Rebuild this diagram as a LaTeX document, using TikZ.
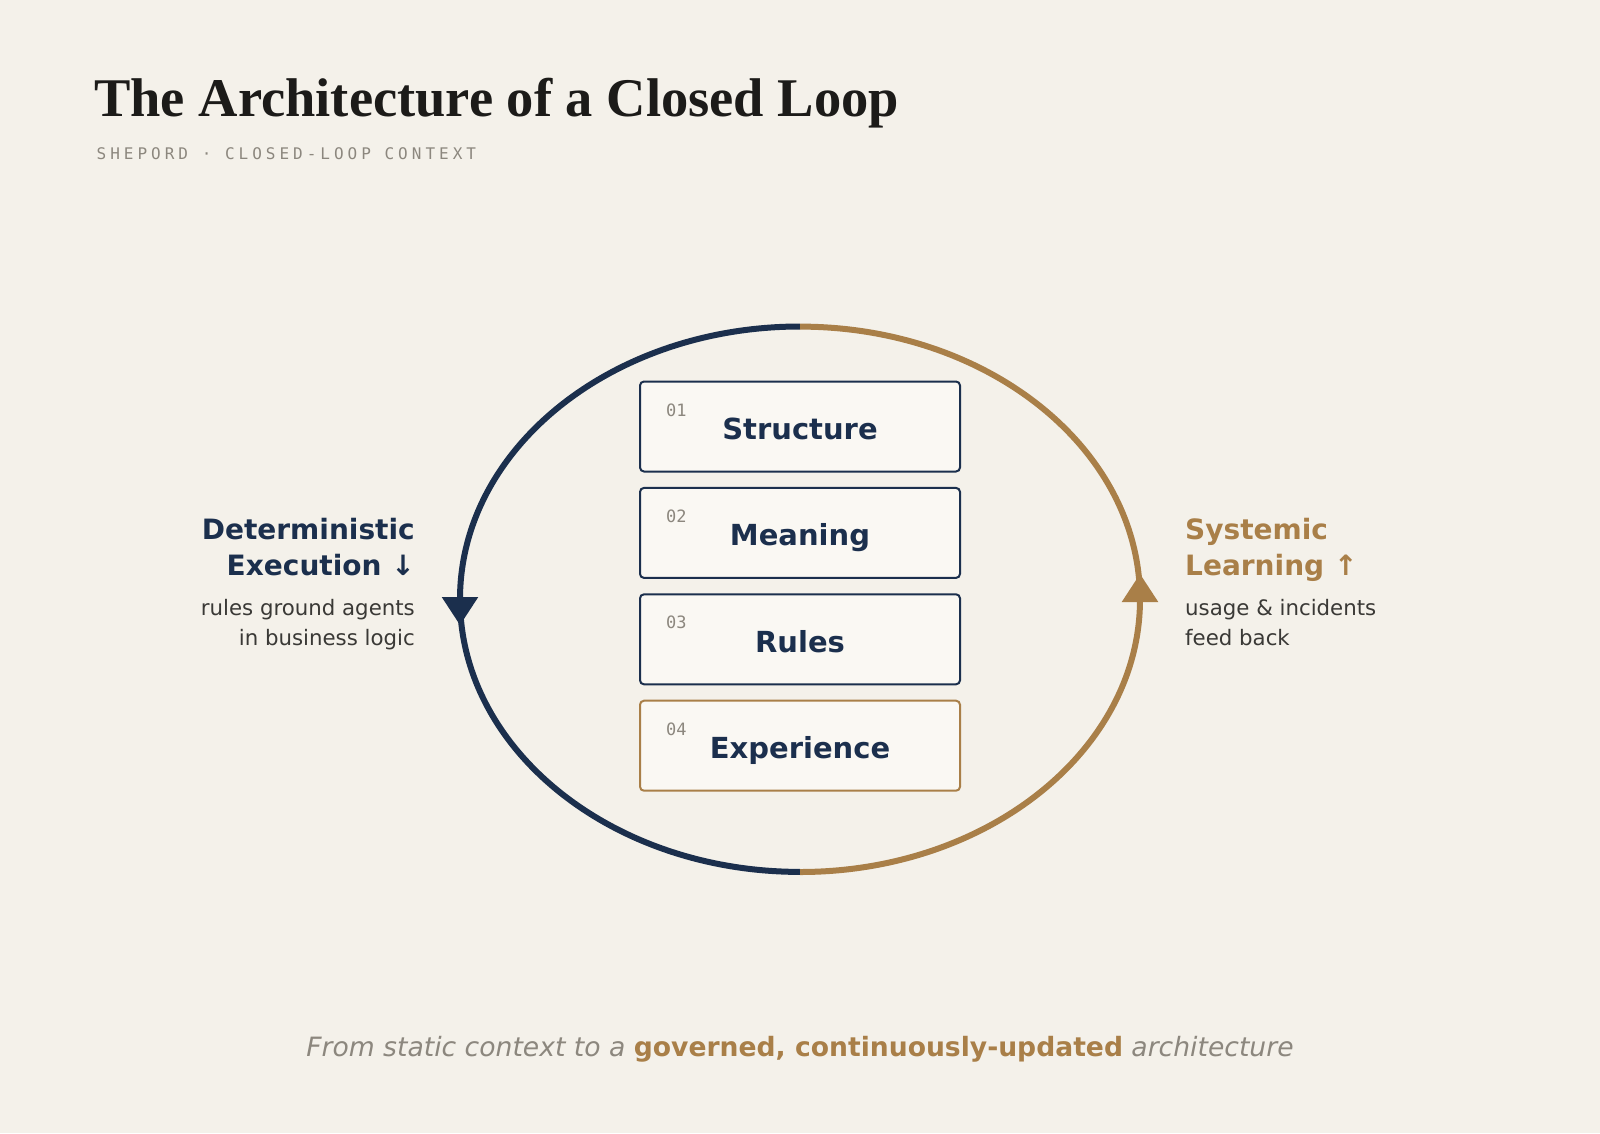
\documentclass[tikz,border=0pt]{standalone}
\usepackage{fontspec}
\setmainfont{DejaVu Sans}
\newfontfamily\titlefont{Liberation Serif}
\newfontfamily\monofont{DejaVu Sans Mono}
\usetikzlibrary{positioning}

\definecolor{paper}{HTML}{F4F1EA}
\definecolor{boxfill}{HTML}{FAF8F3}
\definecolor{navy}{HTML}{1B2F4D}
\definecolor{bronze}{HTML}{A97F48}
\definecolor{titleink}{HTML}{1C1B19}
\definecolor{numgrey}{HTML}{8C877E}
\definecolor{bodyink}{HTML}{3A3936}

\tikzset{
    stagebox/.style={draw, line width=2pt, fill=boxfill, rounded corners=4pt,
        minimum width=320pt, minimum height=90pt, inner sep=0pt},
    stagenum/.style={anchor=west, inner sep=0pt, text=numgrey,
        font=\monofont\fontsize{17}{17}\selectfont},
    stagename/.style={anchor=base, inner sep=0pt, text=navy,
        font=\bfseries\fontsize{29}{29}\selectfont},
    sidehead/.style={inner sep=0pt, font=\bfseries\fontsize{28}{28}\selectfont},
    sidenote/.style={inner sep=0pt, text=bodyink, font=\fontsize{21.3}{21.3}\selectfont}
}

\begin{document}
\begin{tikzpicture}[x=1pt, y=-1pt]
    % Draw background
    \fill[paper] (0,0) rectangle (1600,1133);

    % Add title
    \node[anchor=base west, inner sep=0pt, text=titleink,
        font=\titlefont\bfseries\fontsize{54.5}{54.5}\selectfont] (title) at (94,116)
        {The Architecture of a Closed Loop};
    \node[anchor=base west, inner sep=0pt, text=numgrey,
        font=\monofont\addfontfeature{LetterSpace=25}\fontsize{16}{16}\selectfont] (subtitle) at (96.5,159.3)
        {SHEPORD · CLOSED-LOOP CONTEXT};

    % Draw the loop in two halves
    \draw[navy, line width=6pt] (800,326.5) arc[start angle=-90, end angle=-270, x radius=340, y radius=272.7];
    \draw[bronze, line width=6pt] (800,872) arc[start angle=90, end angle=-90, x radius=340, y radius=272.7];
    \fill[navy] (441.7,597) -- (478.3,597) -- (460,625) -- cycle;
    \fill[bronze] (1121.7,602) -- (1158.3,602) -- (1140,574) -- cycle;

    % Draw the four stages
    \foreach \i/\name/\edge in {1/Structure/navy, 2/Meaning/navy, 3/Rules/navy, 4/Experience/bronze} {
        \node[stagebox, draw=\edge] (box\i) at (800,{320.1+106.4*\i}) {};
        \node[stagenum] (num\i) at ([xshift=27pt, yshift=-29.5pt]box\i.north west) {0\i};
        \node[stagename] (name\i) at ([yshift=-59pt]box\i.north) {\name};
    }

    % Add left labels
    \node[sidehead, text=navy, anchor=base east] (exec1) at (415,539) {Deterministic};
    \node[sidehead, text=navy, anchor=base east] (exec2) at ([yshift=-36.7pt]exec1.base east) {Execution ↓};
    \node[sidenote, anchor=base east] (execnote1) at (415,615) {rules ground agents};
    \node[sidenote, anchor=base east] (execnote2) at ([yshift=-30pt]execnote1.base east) {in business logic};

    % Add right labels
    \node[sidehead, text=bronze, anchor=base west] (learn1) at (1185,539) {Systemic};
    \node[sidehead, text=bronze, anchor=base west] (learn2) at ([yshift=-36.7pt]learn1.base west) {Learning ↑};
    \node[sidenote, anchor=base west] (learnnote1) at (1185,615) {usage \& incidents};
    \node[sidenote, anchor=base west] (learnnote2) at ([yshift=-30pt]learnnote1.base west) {feed back};

    % Add caption
    \node[anchor=base, inner sep=0pt, text=numgrey, font=\itshape\fontsize{26.6}{26.6}\selectfont] (caption) at (800,1056)
        {From static context to a {\upshape\bfseries\color{bronze}governed, continuously-updated} architecture};
\end{tikzpicture}
\end{document}
